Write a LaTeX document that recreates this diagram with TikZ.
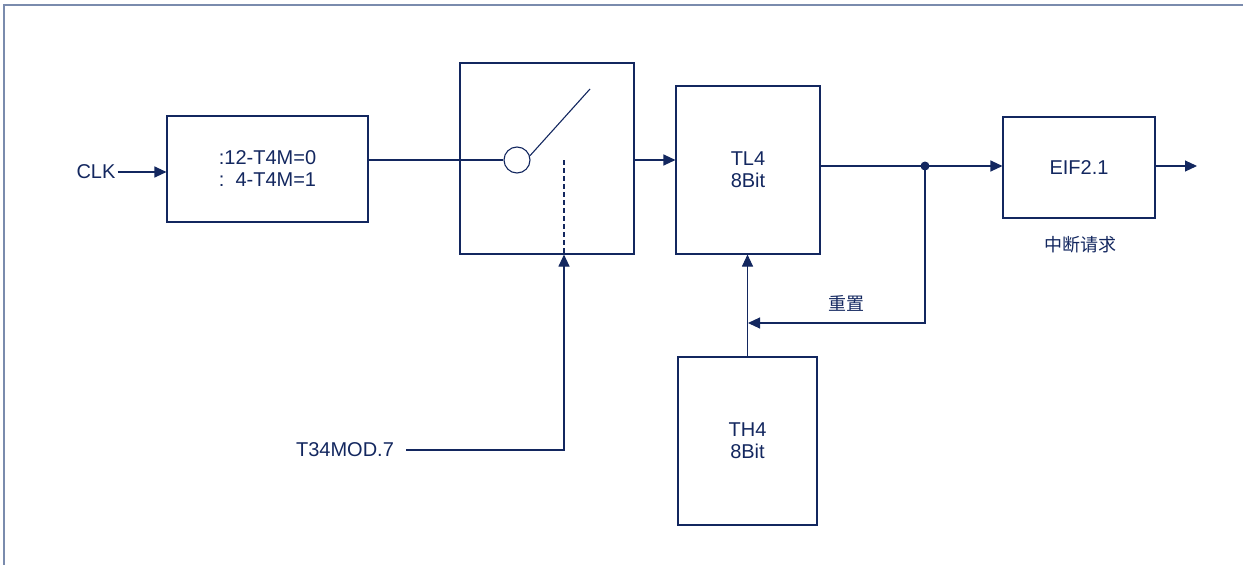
\documentclass[tikz,border=0pt]{standalone}
\usepackage{fontspec}
\setmainfont{Liberation Sans}
\newfontfamily\cjk{Noto Sans CJK SC}
\usetikzlibrary{arrows.meta,calc}
\definecolor{navy}{HTML}{13275F}
\definecolor{framecol}{HTML}{7A8BAD}
\tikzset{
  blk/.style={draw=navy,line width=1.1pt,minimum width=#1,inner sep=0pt,align=center,text=navy,font=\fontsize{20}{23}\selectfont},
  lbl/.style={text=navy,font=\fontsize{20}{23}\selectfont,inner sep=2pt},
  cjklbl/.style={text=navy,font=\cjk\fontsize{18}{21}\selectfont,inner sep=0pt},
  wire/.style={draw=navy,line width=1.1pt},
  arr/.style={wire,-{Triangle[length=12pt,width=11pt]}}
}
\begin{document}
\begin{tikzpicture}[x=1pt,y=-1pt]
\useasboundingbox (0,0) rectangle (1243,565);
\draw[framecol,line width=1.6pt] (1243,5) -- (4,5) -- (4,565);
% blocks
\node[blk=201pt,minimum height=106pt] (div) at (267.5,169) {:12-T4M=0\\[-1pt]:\ \ 4-T4M=1};
\node[blk=174pt,minimum height=191pt] (sw) at (547,158.5) {};
\node[blk=144pt,minimum height=168pt] (tl4) at (748,170) {TL4\\[-1pt]8Bit};
\node[blk=152pt,minimum height=101pt] (eif) at (1079,167.5) {EIF2.1};
\node[blk=139pt,minimum height=168pt] (th4) at (747.5,441) {TH4\\[-1pt]8Bit};
% switch
\node[draw=navy,line width=1.1pt,circle,minimum size=26pt,inner sep=0pt] (circ) at (517,160) {};
\coordinate (blade) at (590,89);
\draw[wire] (circ.18) -- (blade);
\coordinate (dtop) at (564,160);
\draw[wire,dash pattern=on 5pt off 3pt] (dtop) -- (dtop |- sw.south);
% labels
\node[lbl] (clk) at (96,172) {CLK};
\node[lbl] (t34) at (345,450) {T34MOD.7};
\node[cjklbl] (reset) at (846,303) {重置};
\node[cjklbl] (irq) at (1080,245) {中断请求};
% connectors
\draw[arr] (clk.east) -- (clk.east -| div.west);
\draw[wire] (div.east |- circ) -- (circ.west);
\draw[arr] ([xshift=10pt]t34.east) -| (dtop |- sw.south);
\draw[arr] (sw.east |- circ) -- (tl4.west |- circ);
\coordinate (dot) at (925,166);
\draw[wire] (tl4.east |- dot) -- (dot);
\draw[arr] (dot) -- (eif.west |- dot);
\fill[navy] (dot) circle (4.5pt);
\coordinate (out) at (1197,166);
\draw[arr] (eif.east |- dot) -- (out);
\coordinate (fb) at (748,323);
\draw[arr] (dot) |- (fb);
\draw[arr] (th4.north) -- (th4.north |- tl4.south);
\end{tikzpicture}
\end{document}
